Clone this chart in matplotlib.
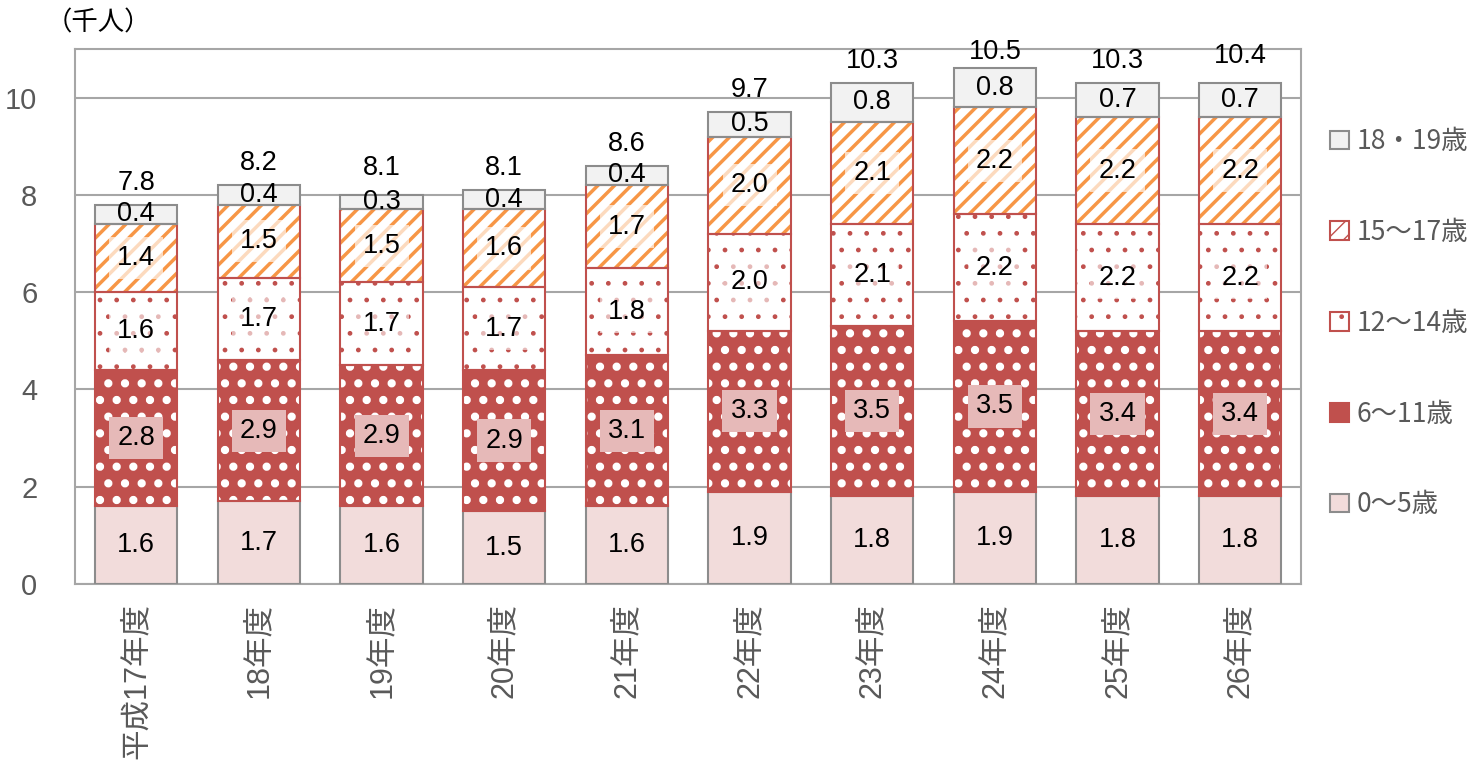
import matplotlib
matplotlib.use('Agg')
import matplotlib.pyplot as plt
import matplotlib.patches as mpatches
import numpy as np

plt.rcParams['font.family'] = ['Liberation Sans', 'Noto Sans CJK JP']

years = ['平成17年度', '18年度', '19年度', '20年度', '21年度',
         '22年度', '23年度', '24年度', '25年度', '26年度']
age_0_5 = [1.6, 1.7, 1.6, 1.5, 1.6, 1.9, 1.8, 1.9, 1.8, 1.8]
age_6_11 = [2.8, 2.9, 2.9, 2.9, 3.1, 3.3, 3.5, 3.5, 3.4, 3.4]
age_12_14 = [1.6, 1.7, 1.7, 1.7, 1.8, 2.0, 2.1, 2.2, 2.2, 2.2]
age_15_17 = [1.4, 1.5, 1.5, 1.6, 1.7, 2.0, 2.1, 2.2, 2.2, 2.2]
age_18_19 = [0.4, 0.4, 0.3, 0.4, 0.4, 0.5, 0.8, 0.8, 0.7, 0.7]
totals = [7.8, 8.2, 8.1, 8.1, 8.6, 9.7, 10.3, 10.5, 10.3, 10.4]

# name, values, face, hatch colour, hatch, hatch lw, outline, label box
series = [
    ('0～5歳', age_0_5, '#F2DCDB', '#F2DCDB', None, 1.0, '#8C8C8C', None),
    ('6～11歳', age_6_11, '#C0504D', 'white', '.', 3.5, '#C0504D', '#E6B9B8'),
    ('12～14歳', age_12_14, 'white', '#C0504D', '.', 1.0, '#C0504D', (1, 1, 1, 0.6)),
    ('15～17歳', age_15_17, 'white', '#F79646', '//', 2.5, '#C0504D', (1, 1, 1, 0.65)),
    ('18・19歳', age_18_19, '#F2F2F2', '#F2F2F2', None, 1.0, '#8C8C8C', None),
]

fig = plt.figure(figsize=(14.84, 7.64), dpi=100)
ax = fig.add_axes([0.0505, 0.2356, 0.8265, 0.7003])

x = np.arange(len(years))
width = 0.67
bottom = np.zeros(len(years))
handles = []
for name, vals, face, hcol, hatch, hlw, edge, box in series:
    vals = np.array(vals)
    with plt.rc_context({'hatch.linewidth': hlw}):
        bars = ax.bar(x, vals, width, bottom=bottom, color=face, edgecolor=hcol,
                      hatch=hatch, linewidth=0, zorder=2)
        for b in bars:
            if hasattr(b, 'set_hatch_linewidth'):
                b.set_hatch_linewidth(hlw)
        h = mpatches.Patch(facecolor=face, edgecolor=hcol, hatch=hatch, linewidth=0)
    ax.bar(x, vals, width, bottom=bottom, fill=False, edgecolor=edge,
           linewidth=1.5, zorder=3)
    handles.append((h, name, edge))
    for xi, v, b0 in zip(x, vals, bottom):
        kw = {}
        if box is not None:
            kw['bbox'] = dict(boxstyle='square,pad=0.3', fc=box, ec='none')
        ax.text(xi, b0 + v / 2, f'{v:.1f}', ha='center', va='center',
                fontsize=19.5, color='black', zorder=4, **kw)
    bottom = bottom + vals

for xi, t in zip(x, totals):
    ax.text(xi, t + 0.18, f'{t:.1f}', ha='center', va='bottom', fontsize=19.5,
            color='black')

ax.set_xlim(-0.5, len(years) - 0.5)
ax.set_ylim(0, 11)
ax.set_yticks(range(0, 11, 2))
ax.yaxis.grid(True, color='#A6A6A6', linewidth=1.5, zorder=0)
ax.set_axisbelow(True)
ax.set_xticks(x)
ax.set_xticklabels(years, rotation=90, fontsize=22, color='#595959')
ax.tick_params(axis='y', labelsize=21, labelcolor='#595959', length=0, pad=27)
ax.tick_params(axis='x', length=0, pad=14)
for s in ax.spines.values():
    s.set_color('#A6A6A6')
    s.set_linewidth(1.5)

fig.text(0.031, 0.97, '（千人）', fontsize=19, ha='left', va='center',
         family=['Noto Sans CJK JP'])

# legend, top entry first
leg = ax.legend(handles=[h for h, *_ in reversed(handles)],
                labels=[n for _, n, _ in reversed(handles)],
                loc='upper left', bbox_to_anchor=(1.015, 0.872), frameon=False,
                labelspacing=2.42, handlelength=0.7, handleheight=0.7,
                handletextpad=0.3, labelcolor='#595959', borderaxespad=0,
                prop={'family': ['Noto Sans CJK JP'], 'size': 19})
for lh, (h, name, edge) in zip(leg.legend_handles, reversed(handles)):
    lh.set_linewidth(1.5)
    lh.set_edgecolor(edge)

fig.savefig('out.png', dpi=100)
